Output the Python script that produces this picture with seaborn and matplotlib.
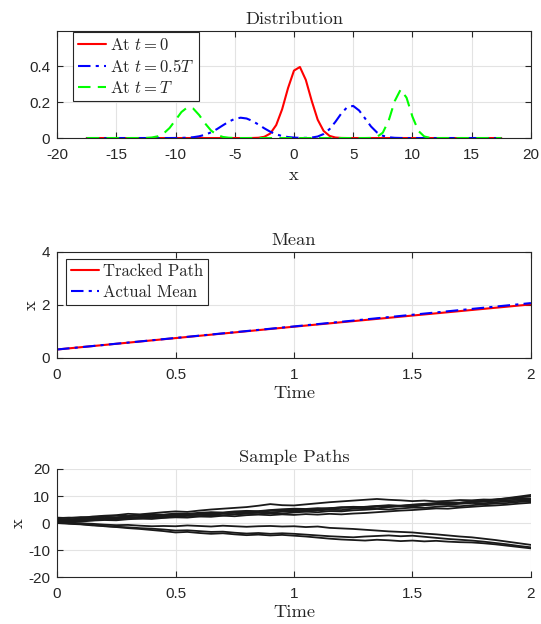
import numpy as np
import pandas as pd
import matplotlib
matplotlib.use("Agg")
import matplotlib.pyplot as plt
import seaborn as sns

# ---------------------------------------------------------------------------
# data
# ---------------------------------------------------------------------------
# distribution grid (x from -17.5 to 17.5, step 0.5)
x_grid = np.linspace(-17.5, 17.5, 71)

pdf_t0 = [0, 0, 0, 0, 0, 0, 0, 0, 0, 0,
          0, 0, 0, 0, 0, 0, 0, 0, 0, 0,
          0, 0, 0, 0, 0, 0, 0, 0, 0.0003, 0.0015,
          0.0069, 0.0252, 0.0721, 0.160, 0.278, 0.375, 0.395, 0.323, 0.206, 0.102,
          0.0396, 0.0119, 0.0028, 0.0005, 0, 0, 0, 0, 0, 0,
          0, 0, 0, 0, 0, 0, 0, 0, 0, 0,
          0, 0, 0, 0, 0, 0, 0, 0, 0, 0,
          0]

pdf_half = [0, 0, 0, 0, 0, 0, 0, 0, 0, 0,
            0, 0, 0, 0, 0, 0.0003, 0.0008, 0.0020, 0.0046, 0.0097,
            0.0184, 0.0317, 0.0497, 0.0707, 0.0911, 0.1066, 0.1130, 0.1086, 0.0947, 0.0749,
            0.0538, 0.0350, 0.0206, 0.0111, 0.0054, 0.0024, 0.0010, 0.0010, 0.0026, 0.0084,
            0.0223, 0.0493, 0.0904, 0.137, 0.172, 0.1785, 0.153, 0.109, 0.0643, 0.0313,
            0.0127, 0.0042, 0.0012, 0.0003, 0, 0, 0, 0, 0, 0,
            0, 0, 0, 0, 0, 0, 0, 0, 0, 0,
            0]

pdf_T = [0, 0, 0, 0, 0, 0, 0, 0, 0, 0.0001,
         0.0007, 0.0029, 0.0095, 0.0255, 0.0558, 0.0996, 0.1445, 0.1704, 0.1635, 0.1276,
         0.0810, 0.0418, 0.0175, 0.0060, 0.0017, 0.0004, 0, 0, 0, 0,
         0, 0, 0, 0, 0, 0, 0, 0, 0, 0,
         0, 0, 0, 0, 0, 0, 0, 0, 0.0007, 0.0058,
         0.0301, 0.0986, 0.205, 0.2694, 0.2244, 0.1185, 0.0396, 0.0084, 0.0011, 0.0001,
         0, 0, 0, 0, 0, 0, 0, 0, 0, 0,
         0]

# mean
t_mean = [0, 0.5, 1.0, 1.5, 2.0]
tracked_path = [0.32, 0.75, 1.18, 1.60, 2.02]
actual_mean = [0.32, 0.755, 1.19, 1.63, 2.07]

# sample paths (t from 0 to 2, step 0.05)
t_paths = np.linspace(0, 2, 41)
paths = {
    "U1": [1.2, 1.0, 1.4, 1.6, 1.5, 1.9, 2.1, 2.0, 2.4, 2.6, 2.5, 2.9, 3.1, 3.0, 3.4, 3.3, 3.7, 3.9, 3.8, 4.2,
           4.4, 4.3, 4.7, 4.9, 4.8, 5.3, 5.5, 5.4, 5.9, 6.2, 6.1, 6.6, 6.9, 7.1, 7.5, 7.8, 8.2, 8.7, 9.2, 9.8, 10.4],
    "U2": [1.8, 2.0, 1.9, 2.4, 2.7, 2.9, 3.4, 3.2, 3.6, 4.0, 4.3, 4.1, 4.6, 5.0, 5.3, 5.6, 5.9, 6.4, 7.0, 6.6,
           6.5, 6.9, 7.3, 7.7, 8.0, 8.3, 8.6, 8.9, 8.6, 8.4, 8.1, 8.3, 8.0, 8.2, 8.5, 8.4, 8.7, 8.6, 8.9, 9.1, 9.0],
    "U3": [0.6, 0.9, 1.1, 1.0, 1.4, 1.7, 1.9, 2.3, 2.2, 2.6, 2.9, 3.2, 3.0, 3.5, 3.7, 4.0, 4.2, 4.1, 4.5, 4.8,
           5.0, 4.7, 5.1, 5.5, 5.8, 5.6, 6.0, 6.3, 6.6, 6.4, 6.8, 7.1, 7.4, 7.7, 7.5, 8.0, 8.4, 8.7, 9.1, 9.5, 9.8],
    "U4": [1.5, 1.3, 1.7, 2.0, 2.2, 2.1, 2.5, 2.8, 2.6, 3.0, 3.3, 3.1, 3.5, 3.8, 3.6, 4.0, 3.9, 4.3, 4.6, 4.4,
           4.7, 5.0, 4.9, 5.3, 5.6, 5.9, 5.7, 6.1, 6.4, 6.3, 6.7, 6.9, 7.2, 7.0, 7.4, 7.7, 7.9, 8.2, 8.4, 8.7, 8.8],
    "U5": [0.8, 1.1, 0.9, 1.3, 1.5, 1.4, 1.8, 1.7, 2.1, 2.0, 2.4, 2.6, 2.5, 2.9, 2.8, 3.2, 3.4, 3.3, 3.6, 3.5,
           3.9, 4.2, 4.0, 4.4, 4.3, 4.7, 4.9, 5.2, 5.0, 5.4, 5.7, 5.6, 6.0, 6.3, 6.2, 6.6, 6.9, 7.2, 7.4, 7.8, 8.0],
    "U6": [0.3, 0.6, 0.5, 0.9, 1.1, 1.0, 1.4, 1.6, 1.5, 1.9, 2.1, 2.0, 2.4, 2.3, 2.7, 2.5, 2.9, 3.1, 2.9, 3.2,
           3.0, 3.3, 3.1, 3.4, 3.2, 3.5, 3.7, 4.0, 4.3, 4.6, 4.8, 5.1, 5.4, 5.3, 5.7, 6.0, 6.3, 6.5, 6.8, 7.2, 7.5],
    "U7": [2.0, 1.8, 2.2, 2.1, 2.5, 2.7, 2.6, 3.0, 3.2, 3.1, 3.5, 3.4, 3.8, 4.0, 3.9, 4.3, 4.5, 4.4, 4.8, 5.1,
           5.3, 5.2, 5.5, 5.4, 5.8, 6.0, 5.9, 6.2, 6.1, 6.4, 6.3, 6.6, 6.9, 6.8, 7.1, 7.4, 7.3, 7.7, 8.0, 8.2, 8.5],
    "L1": [0.5, 0.2, -0.1, -0.3, -0.6, -0.8, -0.7, -1.0, -1.2, -1.1, -1.2, -0.9, -1.1, -1.3, -1.0, -1.2, -1.4, -1.2, -1.1, -1.3,
           -1.2, -1.5, -1.3, -1.8, -2.0, -2.2, -2.5, -2.8, -3.1, -3.3, -3.5, -3.9, -4.2, -4.6, -5.0, -5.3, -5.8, -6.3, -6.9, -7.5, -8.1],
    "L2": [0.0, -0.3, -0.5, -0.9, -1.1, -1.4, -1.6, -1.9, -2.1, -2.4, -2.8, -2.7, -3.0, -3.3, -3.2, -3.6, -3.9, -3.7, -4.0, -3.8,
           -4.0, -4.3, -4.6, -4.9, -5.1, -5.3, -5.0, -4.8, -4.6, -4.9, -4.7, -5.1, -5.5, -5.9, -6.2, -6.5, -6.9, -7.4, -7.9, -8.5, -9.0],
    "L3": [0.3, -0.1, -0.4, -0.7, -1.2, -1.5, -1.9, -2.2, -2.6, -3.0, -3.5, -3.3, -3.7, -4.0, -3.8, -4.2, -4.5, -4.3, -4.6, -4.4,
           -4.7, -5.0, -5.4, -5.8, -6.1, -6.3, -6.5, -6.2, -6.4, -6.7, -6.5, -6.8, -6.6, -6.9, -7.1, -7.2, -7.5, -7.9, -8.4, -8.9, -9.4],
}

# ---------------------------------------------------------------------------
# style
# ---------------------------------------------------------------------------
sns.set_theme(style="ticks")
plt.rcParams['font.family'] = ['Liberation Sans', 'DejaVu Sans']
plt.rcParams['mathtext.fontset'] = 'cm'
plt.rcParams['axes.unicode_minus'] = False

dark = '#262626'
grid_c = '#e3e3e3'
serif = 'cmr10'
tick_fs = 11
lab_fs = 13.3
leg_fs = 12.0

fig = plt.figure(figsize=(5.41, 6.24), dpi=100)
ax1 = fig.add_axes([0.1054, 0.7788, 0.876, 0.1715])
ax2 = fig.add_axes([0.1054, 0.4263, 0.876, 0.1700])
ax3 = fig.add_axes([0.1054, 0.0753, 0.876, 0.1731])


def style_axes(ax, box=True):
    ax.grid(True, color=grid_c, linewidth=0.8)
    ax.set_axisbelow(True)
    for side in ['left', 'bottom', 'top', 'right']:
        ax.spines[side].set_color(dark)
        ax.spines[side].set_linewidth(0.8)
        ax.spines[side].set_visible(box or side in ['left', 'bottom'])
    ax.tick_params(direction='in', length=4, width=0.8, colors=dark,
                   labelsize=tick_fs, top=box, right=box)
    ax.tick_params(axis='x', pad=7)
    ax.tick_params(axis='y', pad=5)


def add_legend(ax, anchor):
    leg = ax.legend(loc='upper left', bbox_to_anchor=anchor, borderaxespad=0,
                    fancybox=False, framealpha=1, edgecolor=dark,
                    prop={'family': serif, 'size': leg_fs}, handlelength=1.65,
                    labelspacing=0.3, borderpad=0.3, handletextpad=0.25)
    leg.get_frame().set_linewidth(0.8)


# ---------------------------------------------------------------------------
# Distribution
# ---------------------------------------------------------------------------
sns.lineplot(x=x_grid, y=pdf_t0, ax=ax1, color=(1, 0, 0), linewidth=1.5,
             label=r'At $t = 0$')
sns.lineplot(x=x_grid, y=pdf_half, ax=ax1, color=(0, 0, 1), linewidth=1.5,
             linestyle=(0, (6, 2.5, 1.5, 2.5)), label=r'At $t = 0.5T$')
sns.lineplot(x=x_grid, y=pdf_T, ax=ax1, color=(0, 1, 0), linewidth=1.5,
             linestyle=(0, (6, 3.5)), label=r'At $t = T$')
ax1.set_xlim(-20, 20)
ax1.set_ylim(0, 0.595)
ax1.set_xticks(range(-20, 21, 5))
ax1.set_yticks([0, 0.2, 0.4])
ax1.set_yticklabels(['0', '0.2', '0.4'])
ax1.set_title('Distribution', fontfamily=serif, fontsize=lab_fs, pad=5)
ax1.set_xlabel('x', fontfamily=serif, fontsize=lab_fs, labelpad=4)
ax1.set_ylabel('')
style_axes(ax1)
add_legend(ax1, (0.034, 0.995))

# ---------------------------------------------------------------------------
# Mean
# ---------------------------------------------------------------------------
sns.lineplot(x=t_mean, y=tracked_path, ax=ax2, color=(1, 0, 0), linewidth=1.5,
             label='Tracked Path')
sns.lineplot(x=t_mean, y=actual_mean, ax=ax2, color=(0, 0, 1), linewidth=1.5,
             linestyle=(0, (6, 2.5, 1.5, 2.5)), label='Actual Mean')
ax2.set_xlim(0, 2)
ax2.set_ylim(0, 4)
ax2.set_xticks([0, 0.5, 1, 1.5, 2])
ax2.set_xticklabels(['0', '0.5', '1', '1.5', '2'])
ax2.set_yticks([0, 2, 4])
ax2.set_title('Mean', fontfamily=serif, fontsize=lab_fs, pad=5)
ax2.set_xlabel('Time', fontfamily=serif, fontsize=lab_fs, labelpad=3)
ax2.set_ylabel('x', fontfamily=serif, fontsize=lab_fs, labelpad=2)
style_axes(ax2)
add_legend(ax2, (0.019, 0.934))

# ---------------------------------------------------------------------------
# Sample Paths
# ---------------------------------------------------------------------------
df_paths = pd.DataFrame([
    {'t': t, 'x': v, 'path': name}
    for name, vals in paths.items()
    for t, v in zip(t_paths, vals)
])
sns.lineplot(data=df_paths, x='t', y='x', units='path', estimator=None,
             ax=ax3, color='k', linewidth=1.3, legend=False)
ax3.set_xlim(0, 2)
ax3.set_ylim(-20, 20)
ax3.set_xticks([0, 0.5, 1, 1.5, 2])
ax3.set_xticklabels(['0', '0.5', '1', '1.5', '2'])
ax3.set_yticks([-20, -10, 0, 10, 20])
ax3.set_title('Sample Paths', fontfamily=serif, fontsize=lab_fs, pad=5)
ax3.set_xlabel('Time', fontfamily=serif, fontsize=lab_fs, labelpad=3)
ax3.set_ylabel('x', fontfamily=serif, fontsize=lab_fs, labelpad=2)
style_axes(ax3, box=False)

fig.savefig('out.png', dpi=100)
